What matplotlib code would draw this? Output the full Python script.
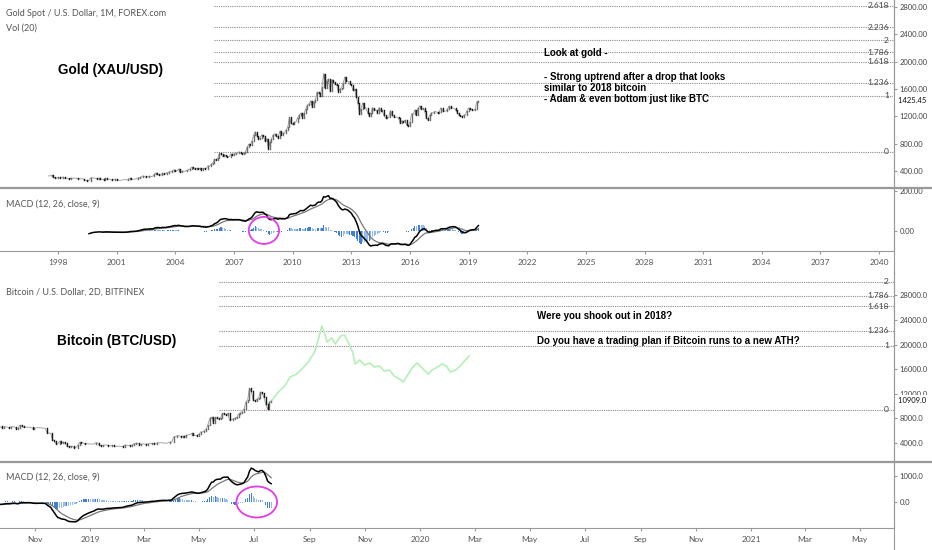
import numpy as np
import pandas as pd
import matplotlib
matplotlib.use("Agg")
import matplotlib.pyplot as plt
import matplotlib.dates as mdates
from matplotlib.lines import Line2D
from matplotlib.patches import Ellipse
from matplotlib.ticker import FixedLocator, FuncFormatter

W, H = 932, 550

# --- Gold monthly closes, Jul 1997 .. Jul 2019 ---
gold_start = (1997, 7)
gold_close = [
    326, 325, 332, 311, 296, 290,                                      # 1997 (Jul-Dec)
    303, 297, 301, 309, 294, 296, 288, 273, 294, 292, 294, 288,        # 1998
    287, 287, 280, 286, 268, 262, 255, 255, 299, 299, 292, 290,        # 1999
    283, 293, 278, 274, 272, 290, 277, 278, 273, 264, 270, 274,        # 2000
    266, 267, 258, 264, 267, 271, 266, 273, 293, 279, 275, 278,        # 2001
    282, 297, 302, 308, 326, 318, 305, 313, 323, 317, 318, 347,        # 2002
    368, 347, 334, 338, 364, 346, 354, 375, 385, 386, 398, 416,        # 2003
    403, 396, 427, 387, 393, 395, 391, 408, 415, 428, 453, 438,        # 2004
    422, 435, 428, 435, 417, 436, 429, 433, 473, 470, 495, 518,        # 2005
    569, 556, 582, 654, 643, 613, 633, 623, 599, 604, 648, 632,        # 2006
    650, 665, 662, 679, 659, 650, 666, 673, 743, 789, 783, 834,        # 2007
    923, 972, 917, 865, 886, 928, 913, 834, 872, 724, 815, 869,        # 2008
    928, 943, 917, 884, 979, 927, 954, 955, 1001, 1040, 1182, 1096,    # 2009
    1081, 1116, 1113, 1180, 1213, 1244, 1181, 1246, 1307, 1357, 1384, 1421,  # 2010
    1332, 1410, 1439, 1556, 1536, 1500, 1628, 1825, 1620, 1722, 1746, 1565,  # 2011
    1737, 1697, 1668, 1664, 1561, 1598, 1614, 1688, 1773, 1719, 1713, 1675,  # 2012
    1663, 1578, 1596, 1476, 1393, 1234, 1313, 1396, 1327, 1323, 1253, 1202,  # 2013
    1244, 1326, 1284, 1296, 1250, 1327, 1282, 1287, 1211, 1171, 1182, 1184,  # 2014
    1283, 1213, 1183, 1183, 1190, 1172, 1095, 1134, 1115, 1142, 1065, 1061,  # 2015
    1118, 1238, 1234, 1293, 1215, 1321, 1350, 1309, 1316, 1276, 1174, 1151,  # 2016
    1211, 1249, 1249, 1268, 1269, 1242, 1269, 1322, 1280, 1271, 1275, 1303,  # 2017
    1345, 1318, 1325, 1315, 1298, 1253, 1224, 1201, 1192, 1215, 1222, 1282,  # 2018
    1321, 1313, 1292, 1284, 1305, 1409, 1425.45,                             # 2019 (Jan-Jul)
]
gold_last = 1425.45
gold_fib_levels = [0, 1, 1.236, 1.618, 1.786, 2, 2.236, 2.618]
gold_fib_low, gold_fib_high = 681, 1497
gold_fib_start = 2006.0
gold_price_ticks = [400, 800, 1200, 1600, 2000, 2400, 2800]
gold_macd_ticks = [0, 200]
gold_year_ticks = list(range(1998, 2041, 3))

# --- Bitcoin 2D closes, 2018-06-01 .. 2019-07-20 ---
btc_start = "2018-06-01"
btc_close = [
    7500, 7700, 7600, 7700, 7500, 6850, 6300, 6450, 6500, 6750, 6700, 6100, 6250, 6100, 6200,          # Jun 18
    6400, 6600, 6600, 6750, 6700, 6350, 6250, 6350, 7350, 7400, 7400, 7700, 8200, 8200, 8200, 7750,    # Jul
    7550, 7050, 6950, 6300, 6200, 6300, 6200, 6300, 6400, 6300, 6400, 6700, 6700, 7100, 6950,          # Aug
    7200, 7300, 6800, 6450, 6250, 6300, 6500, 6550, 6300, 6400, 6700, 6700, 6450, 6650, 6650,          # Sep
    6600, 6500, 6600, 6650, 6650, 6300, 6400, 6900, 6700, 6550, 6600, 6550, 6550, 6550, 6350, 6400,    # Oct
    6450, 6500, 6500, 6450, 6400, 6400, 5700, 5600, 5600, 4550, 4400, 3900, 3850, 4300, 4000,          # Nov
    4150, 3950, 3500, 3400, 3450, 3450, 3250, 3250, 3600, 4100, 4000, 4050, 3800, 3900, 3850,          # Dec
    3850, 3800, 3850, 4050, 4000, 3650, 3550, 3600, 3650, 3700, 3550, 3550, 3600, 3550, 3450, 3480,    # Jan 19
    3500, 3450, 3400, 3650, 3650, 3600, 3580, 3650, 3900, 3950, 3980, 3750, 3800, 3850,                # Feb
    3830, 3750, 3900, 3900, 3950, 3900, 3900, 4050, 4000, 4050, 4020, 4000, 3950, 4050, 4150,          # Mar
    4150, 5000, 5050, 5200, 5200, 5050, 5100, 5050, 5250, 5300, 5350, 5550, 5250, 5250, 5200,          # Apr
    5400, 5800, 5800, 6000, 6200, 7000, 8000, 8200, 7300, 8200, 8000, 7900, 8050, 8800, 8650, 8550,    # May
    8800, 7700, 7800, 7950, 8050, 8200, 8700, 8950, 9100, 9550, 10700, 11000, 12900, 12400, 11000,     # Jun
    10800, 11100, 11300, 12300, 12100, 11400, 10300, 9500, 10700, 10909,                               # Jul
]
btc_last = 10909.0
# projected (green) bars pattern: days after 2019-01-01, price
green_days = [197, 201, 208, 215, 221, 228, 235, 241, 248, 252, 256, 259, 262, 267, 271,
              277, 281, 285, 290, 293, 298, 303, 309, 314, 320, 325, 331, 336, 342, 346,
              351, 356, 361, 365, 369, 374, 378, 384, 389, 394, 398, 404, 409, 415, 419]
green_price = [10180, 11000, 12300, 13270, 14730, 15200, 16200, 17170, 18800, 20750, 23020,
               21900, 20420, 21070, 20100, 21400, 21560, 20420, 18800, 16850, 17500, 16680,
               17000, 16360, 16520, 15700, 15870, 14900, 14400, 13920, 15060, 16200, 17000,
               16520, 15870, 15220, 15870, 16360, 16850, 16520, 15540, 15870, 16520, 17500, 18150]
btc_fib_levels = [0, 1, 1.236, 1.618, 1.786, 2]
btc_fib_low, btc_fib_high = 9400, 19800
btc_fib_start = "2019-05-23"
btc_price_ticks = [4000, 8000, 12000, 16000, 20000, 24000, 28000]
btc_macd_ticks = [0, 1000]

GREY_TXT = "#555555"
AXIS_COL = "#999999"
UP_COL, DOWN_COL = "#6e6e6e", "#1c1c1c"
HIST_STRONG, HIST_WEAK = "#3f7fd6", "#93bbef"

plt.rcParams["font.family"] = ["Lato", "DejaVu Sans"]


def px_axes(fig, x0, y0, x1, y1):
    ax = fig.add_axes([x0 / W, 1 - y1 / H, (x1 - x0) / W, (y1 - y0) / H])
    ax.set_facecolor("none")
    for side in ("top", "left", "bottom"):
        ax.spines[side].set_visible(False)
    ax.spines["right"].set_color(AXIS_COL)
    ax.yaxis.tick_right()
    ax.tick_params(axis="y", length=2.5, pad=1.5, labelsize=5.5,
                   color=AXIS_COL, labelcolor="#444444")
    ax.tick_params(axis="x", bottom=False, labelbottom=False)
    return ax


def ftext(fig, x, y, s, **kw):
    kw.setdefault("va", "center")
    fig.text(x / W, 1 - y / H, s, **kw)


def fline(fig, x0, y0, x1, y1, **kw):
    fig.add_artist(Line2D([x0 / W, x1 / W], [1 - y0 / H, 1 - y1 / H],
                          transform=fig.transFigure, **kw))


def macd(close):
    s = pd.Series(close, dtype=float)
    line = s.ewm(span=12, adjust=False).mean() - s.ewm(span=26, adjust=False).mean()
    sig = line.ewm(span=9, adjust=False).mean()
    return line.values, sig.values, (line - sig).values


def draw_candles(ax, x, close, lw):
    close = np.asarray(close, dtype=float)
    opens = np.r_[close[0], close[:-1]]
    up = close >= opens
    # thin trace through the closes stands in for the wicks
    ax.plot(x, close, color="#9a9a9a", lw=0.6, zorder=2)
    for mask, col in ((up, UP_COL), (~up, DOWN_COL)):
        lc = ax.vlines(x[mask], opens[mask], close[mask], color=col, lw=lw, zorder=3)
        lc.set_capstyle("projecting")


def draw_hist(ax, x, hist, width):
    prev = np.r_[hist[0], hist[:-1]]
    strong = np.where(hist >= 0, hist >= prev, hist < prev)
    cols = np.where(strong, HIST_STRONG, HIST_WEAK)
    ax.bar(x, hist, width=width, color=cols, linewidth=0, zorder=2)


def draw_fibs(ax, start, levels, low, high, xmax, fmt_right):
    for lv in levels:
        val = low + lv * (high - low)
        ax.hlines(val, start, xmax, color="#8a8a8a", lw=0.8,
                  linestyles=(0, (1, 1)), zorder=1)
        ax.text(fmt_right, val, f"{lv:g}", transform=ax.get_yaxis_transform(),
                ha="right", va="center", fontsize=6, color="#444444", zorder=4)


fig = plt.figure(figsize=(W / 100, H / 100), dpi=100)
fig.patch.set_facecolor("white")

# ---------------- Gold ----------------
gx = gold_start[0] + (gold_start[1] - 1) / 12 + np.arange(len(gold_close)) / 12
g_xlim = (1995.03, 2040.76)

ax_g = px_axes(fig, 0, 0, 894, 188)
ax_g.set_xlim(*g_xlim)
ax_g.set_ylim(148, 2903)
draw_fibs(ax_g, gold_fib_start, gold_fib_levels, gold_fib_low, gold_fib_high,
          g_xlim[1], 889 / 894)
draw_candles(ax_g, gx, gold_close, 1.0)
ax_g.yaxis.set_major_locator(FixedLocator(gold_price_ticks))
ax_g.yaxis.set_major_formatter(FuncFormatter(lambda v, p: f"{v:.2f}"))
ax_g.text(1.0, gold_last, f"  {gold_last:.2f}", transform=ax_g.get_yaxis_transform(),
          ha="left", va="center", fontsize=5.5, color="#111111",
          bbox=dict(boxstyle="square,pad=0.15", fc="white", ec="none"), clip_on=False)

ax_gm = px_axes(fig, 0, 188, 894, 251)
ax_gm.set_xlim(*g_xlim)
ax_gm.set_ylim(-100, 215)
g_line, g_sig, g_hist = macd(gold_close)
draw_hist(ax_gm, gx[33:], g_hist[33:], 0.06)
ax_gm.plot(gx[33:], g_sig[33:], color="#777777", lw=0.9, zorder=3)
ax_gm.plot(gx[25:], g_line[25:], color="black", lw=1.1, zorder=4)
ax_gm.add_patch(Ellipse((2008.53, 3), 1.55, 135, fill=False, ec="#e23de2", lw=1.3, zorder=5))
ax_gm.yaxis.set_major_locator(FixedLocator(gold_macd_ticks))
ax_gm.yaxis.set_major_formatter(FuncFormatter(lambda v, p: f"{v:.2f}"))
ax_gm.spines["bottom"].set_visible(True)
ax_gm.spines["bottom"].set_color(AXIS_COL)
ax_gm.set_xticks(gold_year_ticks)
ax_gm.tick_params(axis="x", bottom=True, labelbottom=True, length=2.5, pad=3.5,
                  labelsize=6, color=AXIS_COL, labelcolor=GREY_TXT)

# ---------------- Bitcoin ----------------
bdates = pd.date_range(btc_start, periods=len(btc_close), freq="2D")
bx = mdates.date2num(bdates)
b_xlim = (mdates.date2num(pd.Timestamp("2018-09-23")),
          mdates.date2num(pd.Timestamp("2021-06-08")))

ax_b = px_axes(fig, 0, 271, 894, 462)
ax_b.set_xlim(*b_xlim)
ax_b.set_ylim(911, 31967)
draw_fibs(ax_b, mdates.date2num(pd.Timestamp(btc_fib_start)), btc_fib_levels,
          btc_fib_low, btc_fib_high, b_xlim[1], 889 / 894)
draw_candles(ax_b, bx, btc_close, 1.0)
gdates = mdates.date2num(pd.Timestamp("2019-01-01") + pd.to_timedelta(green_days, unit="D"))
ax_b.plot(gdates, green_price, color="#c6f4c6", lw=1.3, zorder=2)
ax_b.plot(gdates, green_price, color="#a6eba6", lw=0.5, zorder=2, alpha=0.8)
ax_b.yaxis.set_major_locator(FixedLocator(btc_price_ticks))
ax_b.yaxis.set_major_formatter(FuncFormatter(lambda v, p: f"{v:.1f}"))
ax_b.text(1.0, btc_last, f"  {btc_last:.1f}", transform=ax_b.get_yaxis_transform(),
          ha="left", va="center", fontsize=5.5, color="#111111",
          bbox=dict(boxstyle="square,pad=0.25", fc="white", ec="none"), clip_on=False,
          zorder=10)

ax_bm = px_axes(fig, 0, 462, 894, 528)
ax_bm.set_xlim(*b_xlim)
ax_bm.set_ylim(-1016, 1562)
b_line, b_sig, b_hist = macd(btc_close)
draw_hist(ax_bm, bx, b_hist, 1.3)
ax_bm.plot(bx, b_sig, color="#777777", lw=0.9, zorder=3)
ax_bm.plot(bx, b_line, color="black", lw=1.1, zorder=4)
ax_bm.add_patch(Ellipse((mdates.date2num(pd.Timestamp("2019-07-04")), 0), 45, 1210,
                        fill=False, ec="#e23de2", lw=1.3, zorder=5))
ax_bm.yaxis.set_major_locator(FixedLocator(btc_macd_ticks))
ax_bm.yaxis.set_major_formatter(FuncFormatter(lambda v, p: f"{v:.1f}"))
ax_bm.spines["bottom"].set_visible(True)
ax_bm.spines["bottom"].set_color(AXIS_COL)
month_ticks = mdates.date2num(pd.date_range("2018-11-01", "2021-05-01", freq="2MS"))
ax_bm.set_xticks(month_ticks)


def month_label(v, pos):
    d = mdates.num2date(v)
    return str(d.year) if d.month == 1 else d.strftime("%b")


ax_bm.xaxis.set_major_formatter(FuncFormatter(month_label))
ax_bm.tick_params(axis="x", bottom=True, labelbottom=True, length=2.5, pad=3.5,
                  labelsize=6, color=AXIS_COL, labelcolor=GREY_TXT)

# ---------------- frame lines ----------------
fline(fig, 0, 188, W, 188, color=AXIS_COL, lw=1.6)
fline(fig, 0, 462, W, 462, color=AXIS_COL, lw=1.6)
fline(fig, 894, 0, 894, H, color=AXIS_COL, lw=0.8)

# ---------------- texts ----------------
ftext(fig, 6, 14, "Gold Spot / U.S. Dollar, 1M, FOREX.com", fontsize=6.5, color=GREY_TXT)
ftext(fig, 6, 28, "Vol (20)", fontsize=6.5, color=GREY_TXT)
ftext(fig, 6, 204, "MACD (12, 26, close, 9)", fontsize=6.5, color=GREY_TXT)
ftext(fig, 6, 292, "Bitcoin / U.S. Dollar, 2D, BITFINEX", fontsize=6.5, color=GREY_TXT)
ftext(fig, 6, 477, "MACD (12, 26, close, 9)", fontsize=6.5, color=GREY_TXT)

title_kw = dict(fontsize=9.8, fontweight="bold", color="black",
                family=["Liberation Sans", "DejaVu Sans"])
ftext(fig, 58, 70, "Gold (XAU/USD)", **title_kw)
ftext(fig, 57, 341, "Bitcoin (BTC/USD)", **title_kw)

note_kw = dict(fontsize=7, fontweight="bold", color="black",
               family=["Liberation Sans", "DejaVu Sans"])
ftext(fig, 544, 53, "Look at gold -", **note_kw)
ftext(fig, 544, 77, "- Strong uptrend after a drop that looks", **note_kw)
ftext(fig, 544, 88, "similar to 2018 bitcoin", **note_kw)
ftext(fig, 544, 99, "- Adam & even bottom just like BTC", **note_kw)
ftext(fig, 537, 316, "Were you shook out in 2018?", **note_kw)
ftext(fig, 537, 341, "Do you have a trading plan if Bitcoin runs to a new ATH?", **note_kw)

fig.savefig("out.png", dpi=100, facecolor="white")
